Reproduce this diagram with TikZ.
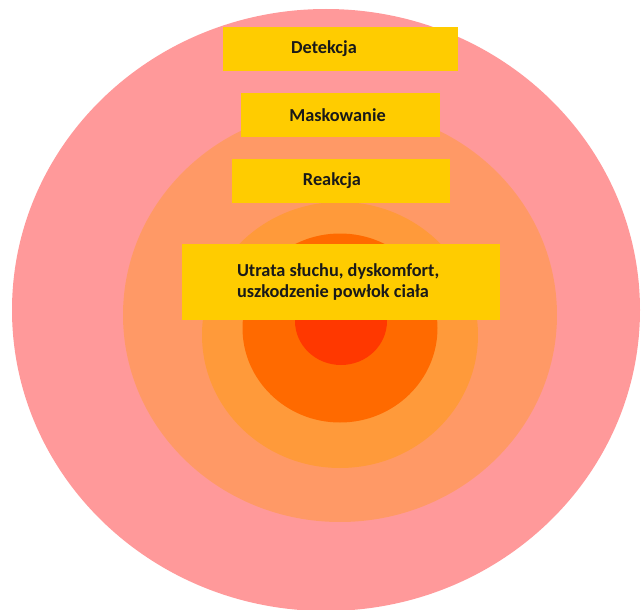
\documentclass[tikz,border=0pt]{standalone}
\usepackage{fontspec}
\setmainfont{Carlito}
\definecolor{strefaA}{HTML}{FF999A}
\definecolor{strefaB}{HTML}{FF9966}
\definecolor{strefaC}{HTML}{FF9A3A}
\definecolor{strefaD}{HTML}{FF6A00}
\definecolor{strefaE}{HTML}{FF3800}
\definecolor{pasek}{HTML}{FFCC00}
\tikzset{
  pole/.style={fill=pasek,draw=none,inner sep=0pt},
  napis/.style={font=\bfseries\fontsize{18.3}{21}\selectfont,text=black!90,inner sep=0pt,align=left}
}
\begin{document}
\begin{tikzpicture}[x=1pt,y=-1pt]
  \useasboundingbox (0,0) rectangle (641,610);
  \clip (0,0) rectangle (641,610);
  % strefy
  \fill[strefaA] (326,310) ellipse [x radius=314,y radius=301];
  \fill[strefaB] (340,315) ellipse [x radius=217,y radius=207];
  \fill[strefaC] (340,335) ellipse [x radius=138,y radius=133];
  \fill[strefaD] (340,328) ellipse [x radius=97.5,y radius=94.5];
  \fill[strefaE] (341,321) ellipse [x radius=46,y radius=44];
  % paski z opisami
  \node[pole,minimum width=235,minimum height=44] (detekcja) at (340.5,49) {};
  \node[pole,minimum width=199,minimum height=44] (maskowanie) at (340.5,115) {};
  \node[pole,minimum width=218,minimum height=44] (reakcja) at (341,181) {};
  \node[pole,minimum width=318,minimum height=76] (skutki) at (341,282) {};
  \node[napis] at ([xshift=-16.5]detekcja.center) {Detekcja};
  \node[napis] at ([xshift=-3]maskowanie.center) {Maskowanie};
  \node[napis] at ([xshift=-9]reakcja.center) {Reakcja};
  \node[napis,anchor=west] at ([xshift=55]skutki.west) {Utrata słuchu, dyskomfort,\\uszkodzenie powłok ciała};
\end{tikzpicture}
\end{document}
